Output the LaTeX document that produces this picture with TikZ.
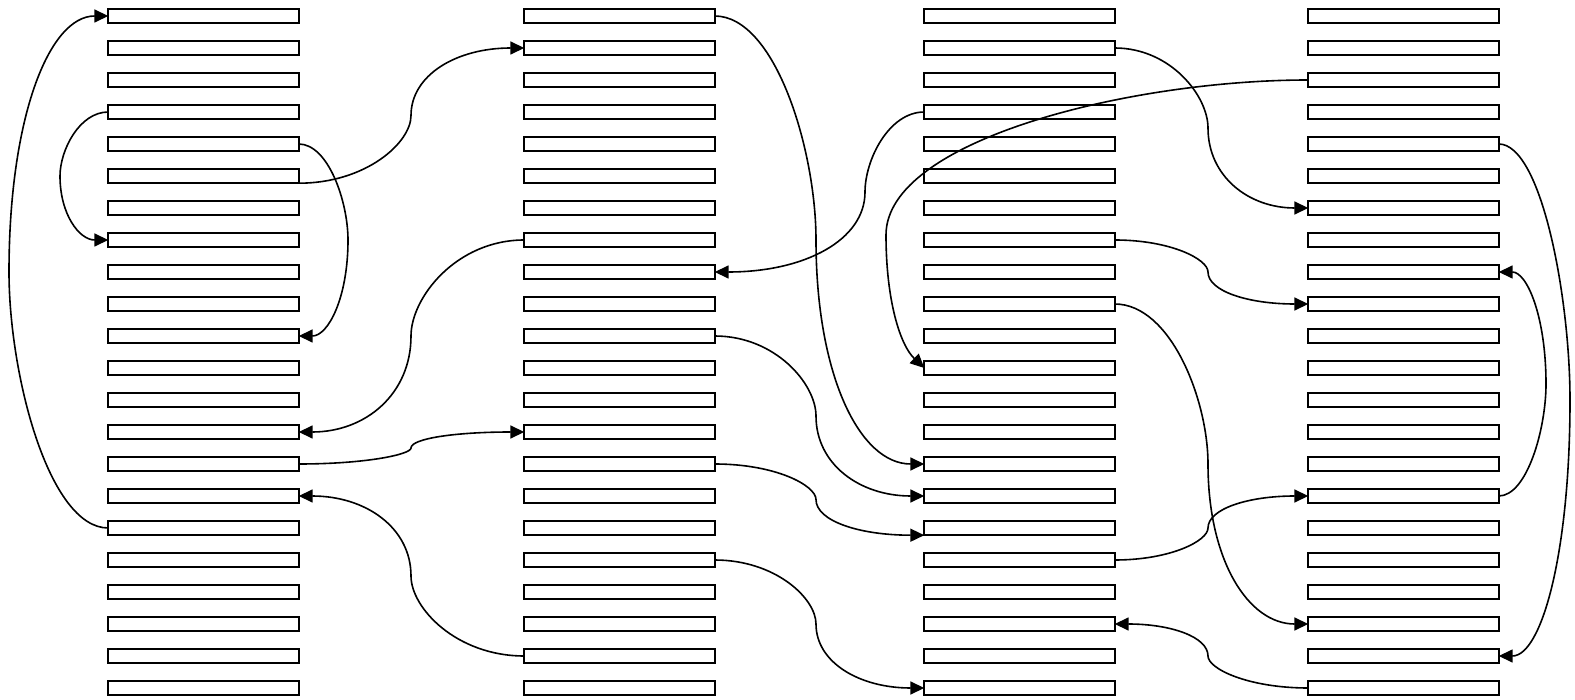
\documentclass[tikz,border=0pt]{standalone}
\usetikzlibrary{arrows.meta,calc}
\tikzset{
  cell/.style={draw,line width=1.9pt,fill=white,minimum width=190.4pt,
    minimum height=14.4pt,inner sep=0pt,outer sep=0pt},
  link/.style={line width=1.6pt,-{Triangle[length=14pt,width=13pt]}},
  via/.style={to path={let \p1=(\tikztostart),\p2=(\tikztotarget),\n1={(\y1+\y2)/2} in
    .. controls ({\x1+0.6*(#1pt-\x1)},\y1) and (#1pt,{\y1+0.6*(\n1*1pt-\y1)}) .. (#1pt,{\n1*1pt})
    .. controls (#1pt,{\n1*1pt+0.6*(\y2-\n1*1pt)}) and ({\x2+0.6*(#1pt-\x2)},\y2) .. (\tikztotarget)}},
}

\begin{document}
\begin{tikzpicture}[x=1pt,y=-1pt]
\useasboundingbox[fill=white] (0,0) rectangle (1575,700);

\foreach \col/\cx in {a/203.5,b/619.5,c/1019.5,d/1403.5}
  \foreach \r in {0,...,21}
    \node[cell] (\col\r) at (\cx,16+32*\r) {};

\path[link]
  (a16.west) edge[via=9] (a0.west)
  (a3.west) edge[via=60] (a7.west)
  (a4.east) edge[via=348] (a10.east)
  (a5.south east) edge[via=411] (b1.west)
  (b7.west) edge[via=411] (a13.east)
  (a14.east) edge[via=411] (b13.west)
  (b20.west) edge[via=411] (a15.east)

  (b0.east) edge[via=816] (c14.west)
  (c3.west) edge[via=865] (b8.east)
  (b10.east) edge[via=816] (c15.west)
  (b14.east) edge[via=816] (c16.south west)
  (b17.east) edge[via=816] (c21.west)

  (c1.east) edge[via=1208] (d6.west)
  (c7.east) edge[via=1208] (d9.west)
  (c9.east) edge[via=1208] (d19.west)
  (c17.east) edge[via=1208] (d15.west)
  (d21.west) edge[via=1208] (c19.east)
  (d4.east) edge[via=1570] (d20.east)
  (d15.east) edge[via=1546] (d8.east);

\draw[link] (d2.west) .. controls (1130,80) and (886,140) .. (886,235)
  .. controls (886,300) and (900,345) .. (c11.west);

\end{tikzpicture}
\end{document}
